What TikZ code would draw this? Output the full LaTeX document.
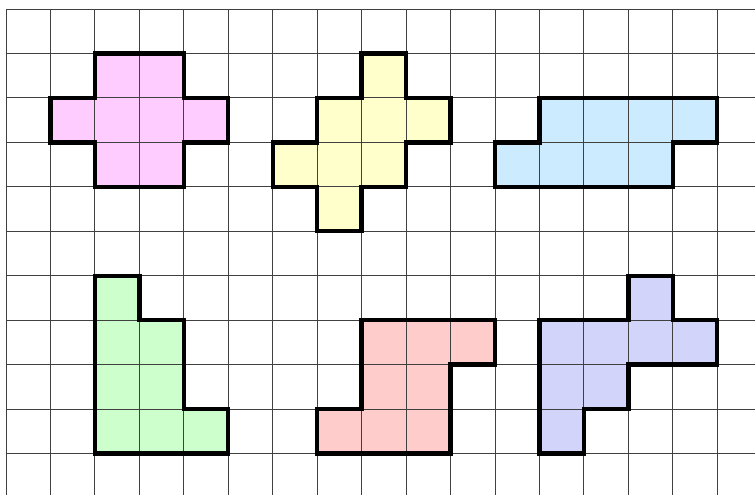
\documentclass[tikz,border=0pt]{standalone}
\definecolor{pinkfill}{HTML}{FFCCFF}
\definecolor{yellowfill}{HTML}{FFFFCC}
\definecolor{bluefill}{HTML}{CCEBFF}
\definecolor{greenfill}{HTML}{CCFFCC}
\definecolor{redfill}{HTML}{FFCCCC}
\definecolor{purplefill}{HTML}{D2D4FA}
\begin{document}
\begin{tikzpicture}[x=1cm,y=-1cm,
  gridline/.style={draw=black!75,line width=0.6pt},
  outline/.style={draw=black,line width=2.8pt,line join=miter}]
\useasboundingbox (-0.135,-0.2025) rectangle (16.85,10.934);
% fills
\fill[pinkfill] (2,1)--(4,1)--(4,2)--(5,2)--(5,3)--(4,3)--(4,4)--(2,4)--(2,3)--(1,3)--(1,2)--(2,2)--cycle;
\fill[yellowfill] (8,1)--(9,1)--(9,2)--(10,2)--(10,3)--(9,3)--(9,4)--(8,4)--(8,5)--(7,5)--(7,4)--(6,4)--(6,3)--(7,3)--(7,2)--(8,2)--cycle;
\fill[bluefill] (12,2)--(16,2)--(16,3)--(15,3)--(15,4)--(11,4)--(11,3)--(12,3)--cycle;
\fill[greenfill] (2,6)--(3,6)--(3,7)--(4,7)--(4,9)--(5,9)--(5,10)--(2,10)--cycle;
\fill[redfill] (8,7)--(11,7)--(11,8)--(10,8)--(10,10)--(7,10)--(7,9)--(8,9)--cycle;
\fill[purplefill] (14,6)--(15,6)--(15,7)--(16,7)--(16,8)--(14,8)--(14,9)--(13,9)--(13,10)--(12,10)--(12,7)--(14,7)--cycle;
% grid
\foreach \i in {0,...,16} \draw[gridline] (\i,0) -- (\i,10.934);
\foreach \j in {0,...,10} \draw[gridline] (0,\j) -- (16.85,\j);
% outlines
\draw[outline] (2,1)--(4,1)--(4,2)--(5,2)--(5,3)--(4,3)--(4,4)--(2,4)--(2,3)--(1,3)--(1,2)--(2,2)--cycle;
\draw[outline] (8,1)--(9,1)--(9,2)--(10,2)--(10,3)--(9,3)--(9,4)--(8,4)--(8,5)--(7,5)--(7,4)--(6,4)--(6,3)--(7,3)--(7,2)--(8,2)--cycle;
\draw[outline] (12,2)--(16,2)--(16,3)--(15,3)--(15,4)--(11,4)--(11,3)--(12,3)--cycle;
\draw[outline] (2,6)--(3,6)--(3,7)--(4,7)--(4,9)--(5,9)--(5,10)--(2,10)--cycle;
\draw[outline] (8,7)--(11,7)--(11,8)--(10,8)--(10,10)--(7,10)--(7,9)--(8,9)--cycle;
\draw[outline] (14,6)--(15,6)--(15,7)--(16,7)--(16,8)--(14,8)--(14,9)--(13,9)--(13,10)--(12,10)--(12,7)--(14,7)--cycle;
\end{tikzpicture}
\end{document}
